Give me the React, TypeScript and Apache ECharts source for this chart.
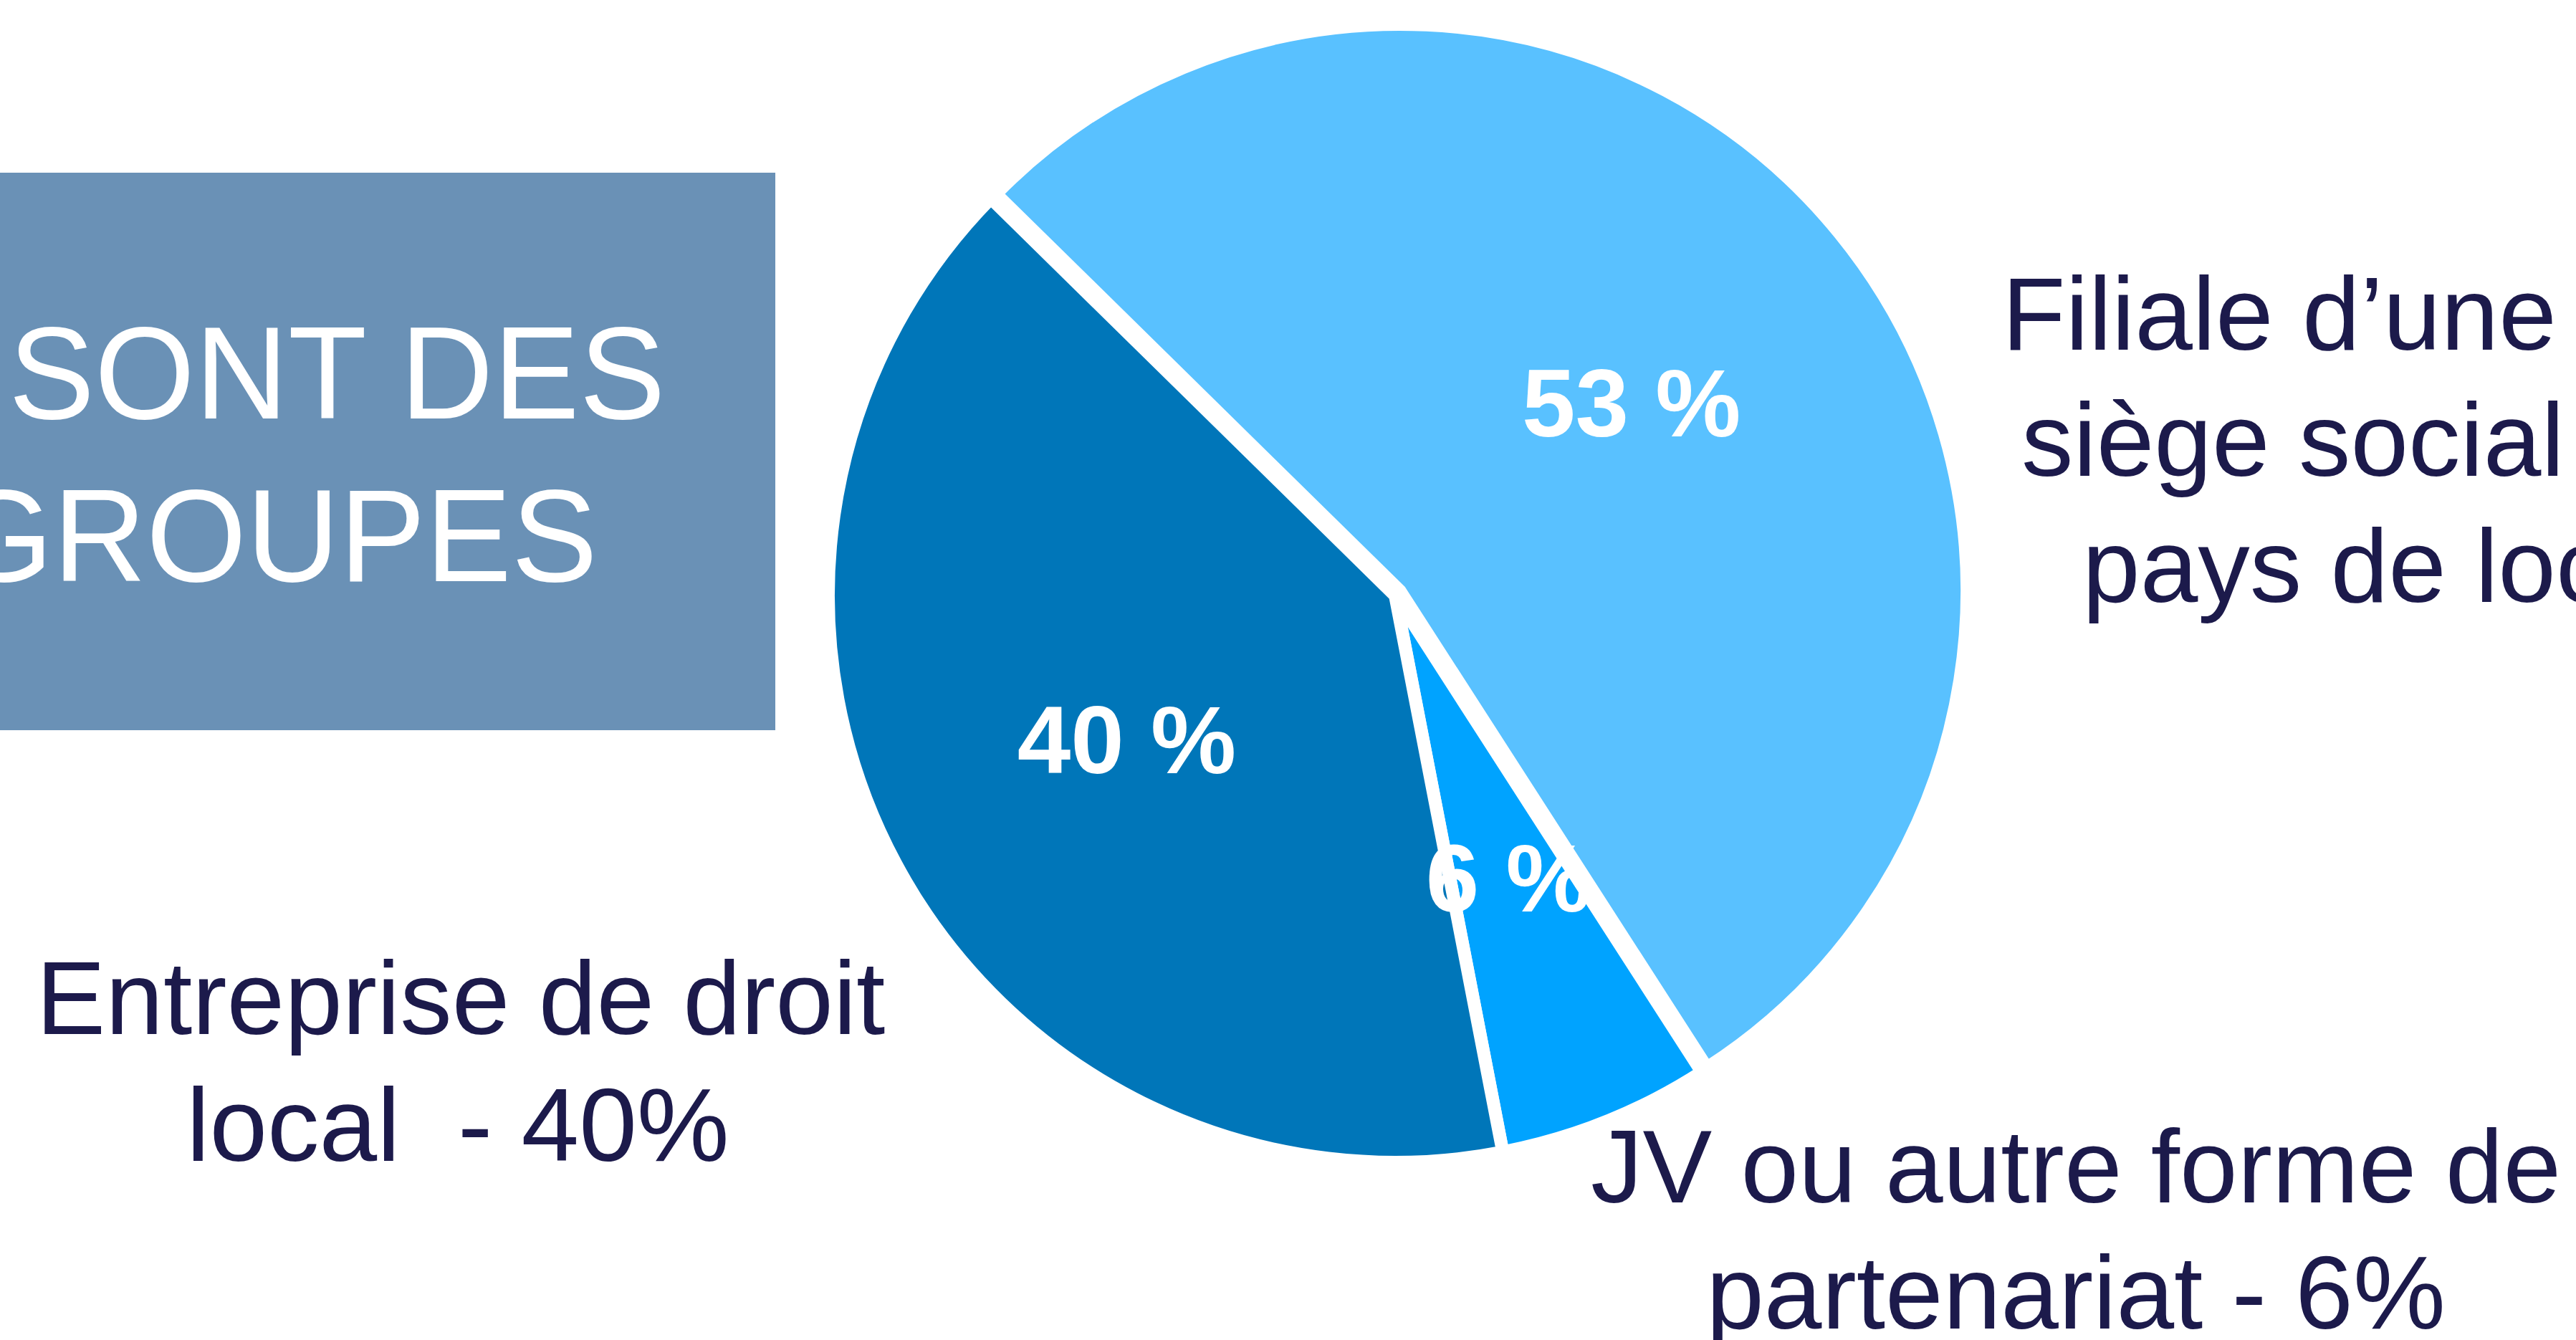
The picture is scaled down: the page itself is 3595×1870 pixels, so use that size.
import React, { useEffect, useRef } from "react";
import * as echarts from "echarts";

// ---- Data ----
const categories = [
  "Filiale d’une entreprise étrangère",
  "JV ou autre forme de partenariat",
  "Entreprise de droit local",
];
const values = [53, 6, 40];
const sliceColors = ["#59C1FF", "#00A3FF", "#0076B9"];
const explodedSlices = [true, false, false];
const titleLines = ["SONT DES", "GROUPES"];
const rightLabelLines = ["Filiale d’une", "siège social", "pays de loc"];
const leftLabelLines = ["Entreprise de droit", "local  - 40%"];
const bottomLabelLines = ["JV ou autre forme de", "partenariat - 6%"];

const FONT = "'Liberation Sans', Arial, Helvetica, sans-serif";
const NAVY = "#1C1A4B";

export default function App() {
  const ref = useRef<HTMLDivElement>(null);

  useEffect(() => {
    if (!ref.current) return;
    const chart = echarts.init(ref.current, null, { renderer: "svg" });

    const center = [1947, 831];
    const explodedCenter = [1954, 825];
    const hidden = { color: "rgba(0,0,0,0)", borderWidth: 0 };

    const sliceSeries = (exploded: boolean) => ({
      type: "pie",
      center: exploded ? explodedCenter : center,
      radius: 791,
      startAngle: 135.5,
      clockwise: true,
      silent: true,
      label: { show: false },
      labelLine: { show: false },
      emphasis: { disabled: true },
      data: values.map((v, i) => ({
        name: categories[i],
        value: v,
        itemStyle:
          explodedSlices[i] === exploded
            ? { color: sliceColors[i], borderColor: "#ffffff", borderWidth: 18 }
            : hidden,
      })),
      z: 2,
    });

    const textEl = (text: string, x: number, y: number, align: string, size: number, color: string, scaleX = 1) => ({
      type: "text",
      x,
      y,
      scaleX,
      z: 10,
      silent: true,
      style: {
        text,
        fill: color,
        fontSize: size,
        fontFamily: FONT,
        fontWeight: "normal",
        textAlign: align,
        align,
        textVerticalAlign: "middle",
        verticalAlign: "middle",
      },
    });

    chart.setOption({
      animation: false,
      backgroundColor: "#ffffff",
      series: [
        sliceSeries(false),
        sliceSeries(true),
        {
          type: "pie",
          center,
          radius: 844,
          startAngle: 135.5,
          clockwise: true,
          silent: true,
          emphasis: { disabled: true },
          itemStyle: hidden,
          label: {
            show: true,
            position: "inside",
            color: "#ffffff",
            fontSize: 134,
            fontWeight: "bold",
            fontFamily: FONT,
            formatter: (p: any) => p.value + " %",
          },
          labelLine: { show: false },
          data: values.map((v, i) => ({ name: categories[i], value: v })),
          z: 5,
        },
      ],
      graphic: [
        {
          type: "rect",
          silent: true,
          z: 1,
          shape: { x: 0, y: 241, width: 1082, height: 778 },
          style: { fill: "#6A91B6" },
        },
        textEl(titleLines[0], 12, 520, "left", 184, "#ffffff", 0.978),
        textEl(titleLines[1], -66, 747, "left", 184, "#ffffff", 0.978),
        textEl(rightLabelLines[0], 2794, 438, "left", 145, NAVY),
        textEl(rightLabelLines[1], 2821, 614, "left", 145, NAVY),
        textEl(rightLabelLines[2], 2906, 790, "left", 145, NAVY),
        textEl(leftLabelLines[0], 643, 1393, "center", 145, NAVY),
        textEl(leftLabelLines[1], 639, 1570, "center", 145, NAVY),
        textEl(bottomLabelLines[0], 2897, 1628, "center", 145, NAVY),
        textEl(bottomLabelLines[1], 2897, 1804, "center", 145, NAVY),
      ],
    });

    return () => chart.dispose();
  }, []);

  return (
    <div
      ref={ref}
      style={{ position: "fixed", left: 0, top: 0, width: 3595, height: 1870 }}
    />
  );
}
